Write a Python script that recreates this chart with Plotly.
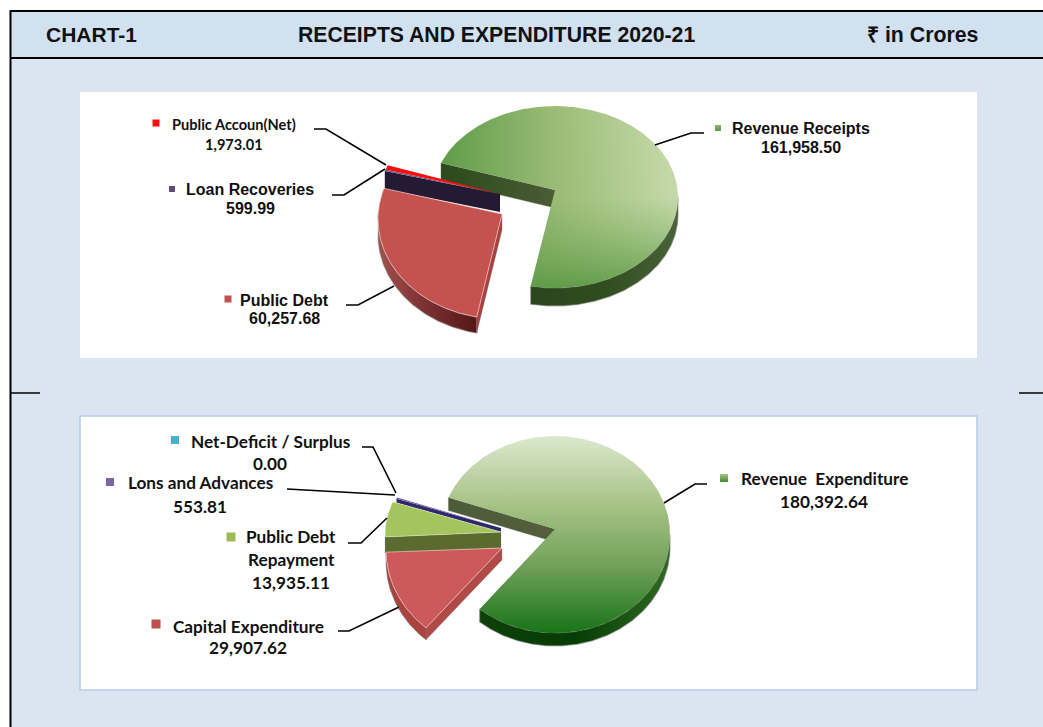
import numpy as np
import plotly.graph_objects as go

# ---------- data ----------
receipt_labels = ["Revenue Receipts", "Public Debt", "Loan Recoveries", "Public Accoun(Net)"]
receipt_values = [161958.50, 60257.68, 599.99, 1973.01]
spend_labels = ["Revenue  Expenditure", "Capital Expenditure", "Public Debt<br>Repayment", "Lons and Advances", "Net-Deficit / Surplus"]
spend_values = [180392.64, 29907.62, 13935.11, 553.81, 0.00]
header_left = "CHART-1"
header_mid = "RECEIPTS AND EXPENDITURE 2020-21"
header_right = "₹ in Crores"

START_ANGLE = -68.0


def sweep(values):
    v = np.array(values, dtype=float)
    edges = START_ANGLE + np.concatenate([[0], np.cumsum(v)]) / v.sum() * 360
    return list(zip(edges[:-1], edges[1:]))


# ---------- slice geometry / style (ellipse centre, radii, apex, wall height) ----------
receipt_geo = [
    dict(cx=555, cy=197, rx=123, ry=91, ax=555, ay=190, h=18),
    dict(cx=501, cy=219, rx=123, ry=100, ax=502, ay=214, h=16),
    dict(cx=500, cy=197, rx=121, ry=85, ax=500, ay=194, h=18),
    dict(cx=500, cy=197, rx=121, ry=85, ax=500, ay=194, h=1),
]
spend_geo = [
    dict(cx=555, cy=534.5, rx=115, ry=98.5, ax=555, ay=529, h=13),
    dict(cx=502, cy=550, rx=116, ry=103, ax=502, ay=548, h=12),
    dict(cx=501, cy=535, rx=116, ry=92, ax=501, ay=532, h=16),
    dict(cx=501, cy=530, rx=112, ry=87, ax=501, ay=528, h=4),
    dict(cx=501, cy=530, rx=112, ry=87, ax=501, ay=528, h=1),
]

fig = go.Figure()


def pt(g, deg):
    t = np.radians(deg)
    return g["cx"] + g["rx"] * np.sin(t), g["cy"] - g["ry"] * np.cos(t)


def add_poly(xs, ys, color=None, grad=None, line=None, lw=0):
    kw = {}
    if grad is not None:
        kw["fillgradient"] = dict(type=grad[0], colorscale=[[i / (len(grad[1]) - 1), c] for i, c in enumerate(grad[1])])
        kw["fillcolor"] = grad[1][0]
    else:
        kw["fillcolor"] = color
    fig.add_trace(go.Scatter(x=list(xs), y=list(ys), mode="lines", fill="toself",
                             line=dict(color=line or "rgba(0,0,0,0)", width=lw),
                             hoverinfo="skip", showlegend=False, **kw))


def top(g, a0, a1, **kw):
    th = np.linspace(a0, a1, max(int(abs(a1 - a0) * 2), 2))
    x, y = pt(g, th)
    add_poly([g["ax"], *x, g["ax"]], [g["ay"], *y, g["ay"]], **kw)


def rim(g, a0, a1, **kw):
    th = np.linspace(a0, a1, max(int(abs(a1 - a0) * 2), 2))
    x, y = pt(g, th)
    add_poly([*x, *x[::-1], x[0]], [*y, *(y[::-1] + g["h"]), y[0]], **kw)


def face(g, a, **kw):
    x, y = pt(g, a)
    ax, ay, h = g["ax"], g["ay"], g["h"]
    add_poly([ax, x, x, ax, ax], [ay, y, y + h, ay + h, ay], **kw)


SH = "rgba(120,120,120,0.55)"

# ---------- receipts pie ----------
r = sweep(receipt_values)
g = receipt_geo[0]
face(g, r[0][0], grad=("horizontal", ["#2b4a1b", "#4a5c34"]), line=SH, lw=0.6)
rim(g, 90, r[0][1], grad=("horizontal", ["#2a451a", "#304d20", "#4a6338"]), line=SH, lw=1.2)
top(g, *r[0], grad=("horizontal", ["#5f9c49", "#9dbd78", "#c9dcae"]))
# vertical gradients run bottom-to-top on screen because the y axis is reversed
top(g, *r[0], grad=("vertical", ["rgba(120,170,90,0.0)", "rgba(120,170,90,0.05)", "rgba(85,150,65,0.85)"][::-1]))

g = receipt_geo[2]
face(g, r[2][0], color="#241a33")
g = receipt_geo[1]
rim(g, r[1][0], 275, grad=("horizontal", ["#a34f4d", "#7a3030", "#561616"]), line=SH, lw=1.2)
face(g, r[1][0], color="#a8403d", line=SH, lw=0.6)
top(g, *r[1], color="#c4534f", line="rgba(255,215,215,0.75)", lw=0.8)
top(receipt_geo[2], *r[2], color="#6e5a86")
top(receipt_geo[3], *r[3], color="#fb0d0d")

# ---------- expenditure pie ----------
s = sweep(spend_values)
g = spend_geo[0]
face(g, s[0][0], grad=("horizontal", ["#4c5c38", "#565e3c"]), line=SH, lw=0.6)
rim(g, 90, s[0][1], grad=("horizontal", ["#0c4006", "#063d05", "#2f6a20"]), line=SH, lw=1.2)
top(g, *s[0], grad=("vertical", ["#dce8cf", "#a9c488", "#6fa059", "#187418"][::-1]))

g = spend_geo[3]
face(g, s[3][0], color="#2e2a6a")
top(g, *s[3], color="#7d60a8")
g = spend_geo[2]
face(g, s[2][0], color="#5b6b30", line=SH, lw=0.4)
top(g, *s[2], color="#a4c55e", line="rgba(240,250,220,0.7)", lw=0.6)
g = spend_geo[1]
rim(g, s[1][0], 268, color="#a94340", line=SH, lw=1.0)
face(g, s[1][0], color="#b14a47", line=SH, lw=0.4)
top(g, *s[1], color="#cc5a5a", line="rgba(255,215,215,0.75)", lw=0.8)

# ---------- leader lines ----------
LEADERS = [
    ([314, 326, 386], [129, 129, 165]),
    ([332, 344, 385], [195, 195, 169]),
    ([346, 358, 394], [305, 305, 286]),
    ([704, 691, 655], [133, 133, 145]),
    ([362, 373, 396], [447, 447, 493]),
    ([287, 395], [489, 495]),
    ([348, 361, 387], [543, 543, 518]),
    ([338, 349, 399], [631, 631, 607]),
    ([707, 695, 664], [484, 484, 503]),
]
for lx, ly in LEADERS:
    fig.add_trace(go.Scatter(x=lx, y=ly, mode="lines", line=dict(color="black", width=1.6),
                             hoverinfo="skip", showlegend=False))

# ---------- legend keys ----------
KEYS = [
    (718, 128, 6, "#8db26a", "#5f9a48"), (172, 189, 6, "#604a7b", None), (228, 299, 7, "#c0504d", None),
    (156, 123, 7, "#fb0d0d", None),
    (724, 478, 8, "#a9c488", "#3f8a2f"), (156, 624, 9, "#c0504d", None), (231, 537, 9, "#9bbb59", None),
    (110, 482, 8, "#8064a2", None), (175, 440, 8, "#4bacc6", None),
]
for kx, ky, ks, kc, kg in KEYS:
    m = dict(symbol="square", size=ks, color=kc, line=dict(width=0))
    if kg:
        m["gradient"] = dict(type="vertical", color=kg)
    fig.add_trace(go.Scatter(x=[kx], y=[ky], mode="markers", marker=m, hoverinfo="skip", showlegend=False))

# ---------- text ----------
ARIAL = "Liberation Sans"
CAL = "Lato"


def text(x, y, t, size, family):
    fig.add_annotation(x=x, y=y, xref="x", yref="y", text=t, showarrow=False, xanchor="center", yanchor="middle",
                       font=dict(family=family, size=size, color="#111111", weight="bold"))


fmt = lambda v: f"{v:,.2f}"
text(801, 128, receipt_labels[0], 16, ARIAL)
text(801, 147, fmt(receipt_values[0]), 16, ARIAL)
text(284, 300, receipt_labels[1], 16, ARIAL)
text(284, 318, fmt(receipt_values[1]), 16, ARIAL)
text(250, 189, receipt_labels[2], 16, ARIAL)
text(250, 208, fmt(receipt_values[2]), 16, ARIAL)
text(234, 124, receipt_labels[3], 14.6, CAL)
text(234, 144, fmt(receipt_values[3]), 14.6, CAL)

text(824, 478, spend_labels[0].replace("  ", "&nbsp; "), 17.2, CAL)
text(824, 501, fmt(spend_values[0]), 17.2, CAL)
text(248, 626, spend_labels[1], 17.2, CAL)
text(248, 647, fmt(spend_values[1]), 17.2, CAL)
a, b = spend_labels[2].split("<br>")
text(291, 536, a, 17.2, CAL)
text(291, 559, b, 17.2, CAL)
text(291, 582, fmt(spend_values[2]), 17.2, CAL)
text(200, 482, spend_labels[3], 17.2, CAL)
text(200, 506, fmt(spend_values[3]), 17.2, CAL)
text(270, 441, spend_labels[4], 17.2, CAL)
text(270, 463, fmt(spend_values[4]), 17.2, CAL)

text(91.5, 34, header_left, 21, ARIAL)
text(496, 34, header_mid, 21.2, ARIAL)
text(922, 35, header_right, 21.3, ARIAL)

# ---------- page furniture ----------
rect = lambda x0, y0, x1, y1, fill, line=None, lw=0: dict(
    type="rect", xref="x", yref="y", x0=x0, y0=y0, x1=x1, y1=y1, fillcolor=fill,
    line=dict(color=line or "rgba(0,0,0,0)", width=lw), layer="below")
seg = lambda x0, y0, x1, y1, w=2: dict(type="line", xref="x", yref="y", x0=x0, y0=y0, x1=x1, y1=y1,
                                       line=dict(color="black", width=w), layer="below")
shapes = [
    rect(10, 11, 1043, 727, "#dbe5f1"),
    rect(10, 11, 1043, 58, "#d2e1f0"),
    seg(10, 11, 1043, 11), seg(10, 58, 1043, 58), seg(10.5, 10, 10.5, 727),
    seg(10, 393, 40, 393, 1.5), seg(1019, 393, 1043, 393, 1.5),
    rect(80, 92, 977, 358, "white"),
    rect(80, 416, 977, 690, "white", "#b8cce4", 1.5),
]

fig.update_layout(
    width=1043, height=727, margin=dict(l=0, r=0, t=0, b=0, pad=0, autoexpand=False),
    paper_bgcolor="white", plot_bgcolor="white", showlegend=False, shapes=shapes,
    xaxis=dict(range=[0, 1043], visible=False, fixedrange=True),
    yaxis=dict(range=[727, 0], visible=False, fixedrange=True),
)
fig.write_html("out.html", config={"displayModeBar": False},
               post_script="document.body.style.margin='0';document.documentElement.style.overflow='hidden';")
